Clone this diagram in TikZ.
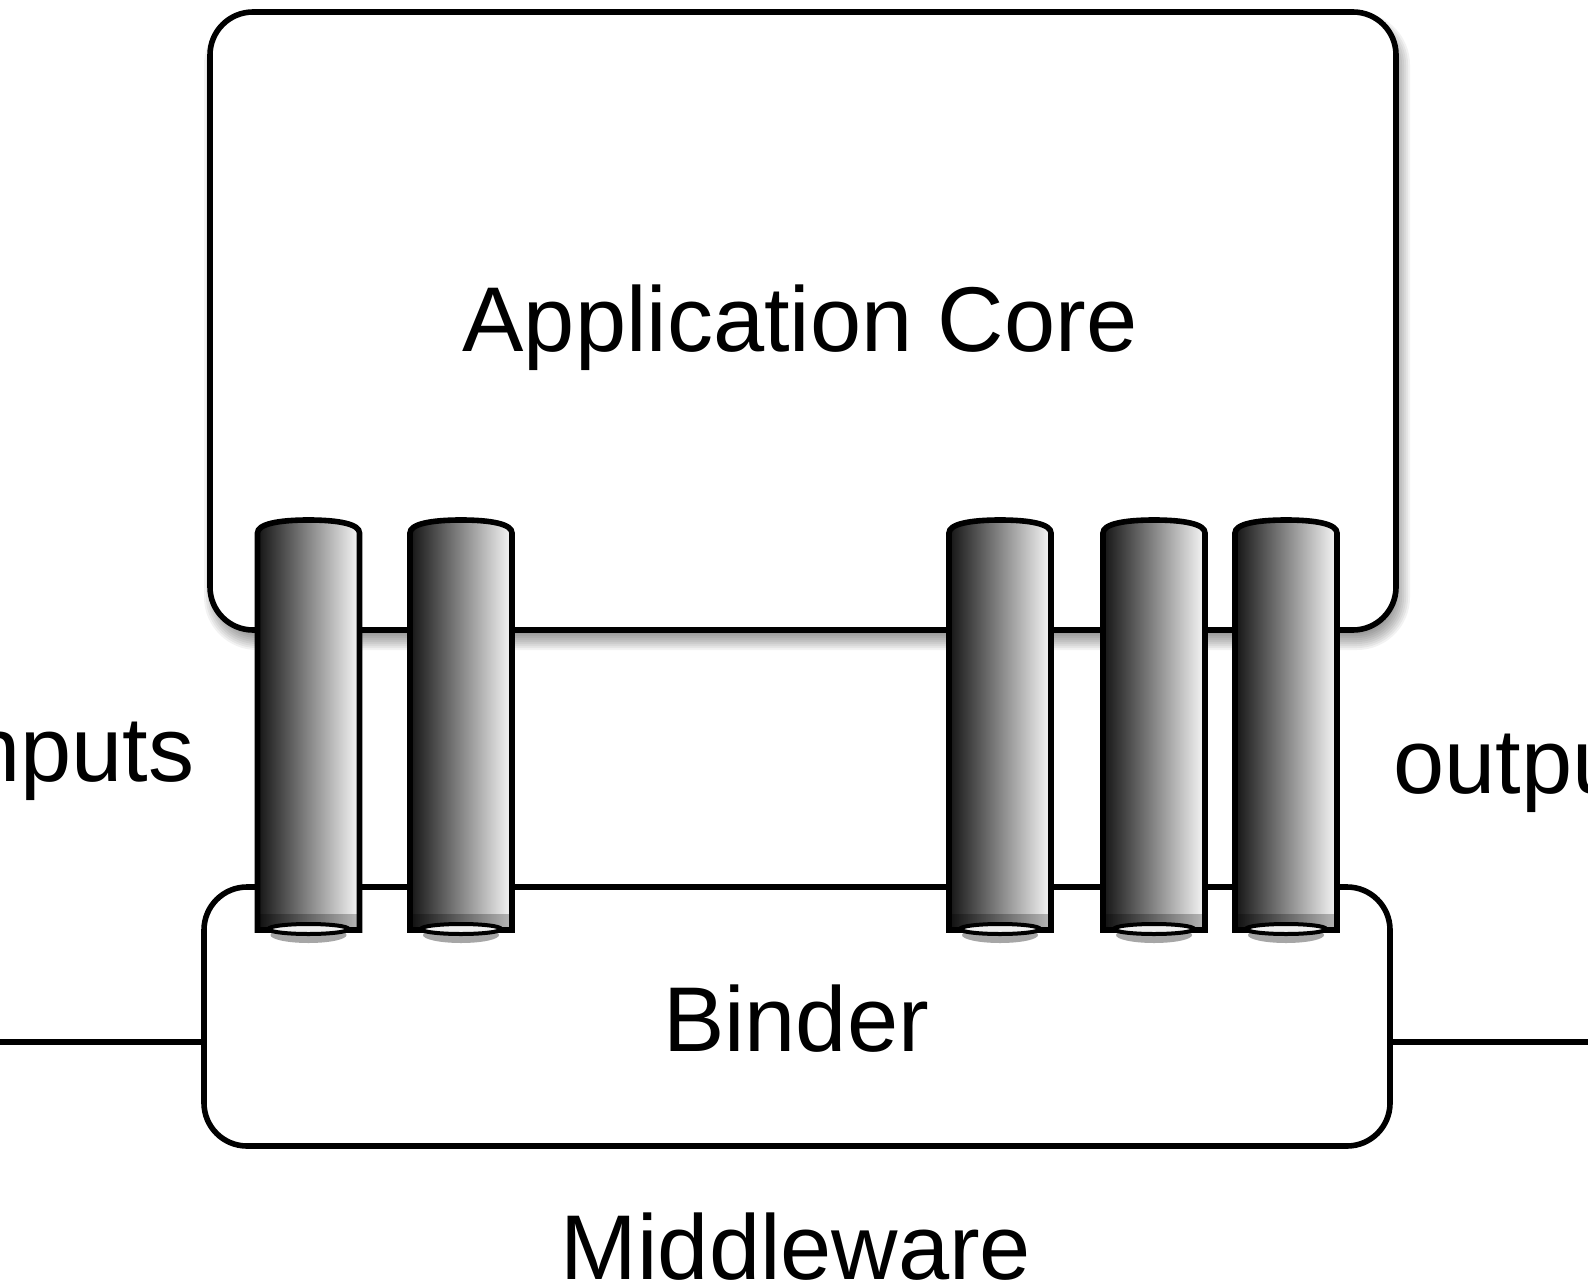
\documentclass[tikz,border=0pt]{standalone}
\usepackage{fontspec}
\setmainfont{Liberation Sans}
\tikzset{
 boxstyle/.style={draw=black, line width=2.8pt, fill=white, rounded corners=21.5pt, inner sep=0pt},
 lbl/.style={inner sep=0pt, font=\fontsize{46}{52}\selectfont},
 edge/.style={line width=2.8pt, draw=black},
 pipebody/.style={line width=2.8pt, draw=black, left color=black!92, right color=white!97!black},
}
\newcommand\pipeat[1]{%
 \fill[black!35] (#1,935) ellipse [x radius=38, y radius=8];
 \draw[pipebody] (#1-51,533) .. controls (#1-51,524) and (#1-30,520) .. (#1,520) .. controls (#1+30,520) and (#1+51,524) .. (#1+51,533) -- (#1+51,930) -- (#1-51,930) -- cycle;
 \fill[black, opacity=0.25] (#1-49,914) rectangle (#1+49,928);
 \filldraw[fill=white!94!black, draw=black, line width=2pt] (#1,929) ellipse [x radius=40, y radius=5];
}
\begin{document}
\begin{tikzpicture}[x=0.5pt,y=-0.5pt]
\useasboundingbox[fill=white] (0,0) rectangle (1588,1283);
% soft shadow of the application core box
\foreach \k in {0,...,9}{%
  \pgfmathsetmacro\rr{(53-2*\k)*0.5}
  \fill[black, opacity=0.05, rounded corners=\rr pt] (204+2*\k,12+2*\k) rectangle (1410-2*\k,650-2*\k);
}
\node[boxstyle, minimum width=593pt, minimum height=309pt] (core) at (803,321) {};
\node[boxstyle, minimum width=593pt, minimum height=129.5pt] (binder) at (797,1016.5) {};
\coordinate (inL) at (0,1042);
\coordinate (outR) at (1588,1042);
\draw[edge] (inL) -- (inL -| binder.west);
\draw[edge] (binder.east |- outR) -- (outR);
\pipeat{308.5}
\pipeat{461}
\pipeat{1000}
\pipeat{1154}
\pipeat{1286}
\node[lbl, anchor=base] (coretext) at (800,351) {Application Core};
\node[lbl, anchor=base] (bindertext) at (796,1051) {Binder};
\node[lbl, anchor=base] (mwtext) at (796,1279) {Middleware};
\node[lbl, anchor=base east] (intext) at (195,781) {inputs};
\node[lbl, anchor=base west] (outtext) at (1393,793) {outputs};
\end{tikzpicture}
\end{document}
